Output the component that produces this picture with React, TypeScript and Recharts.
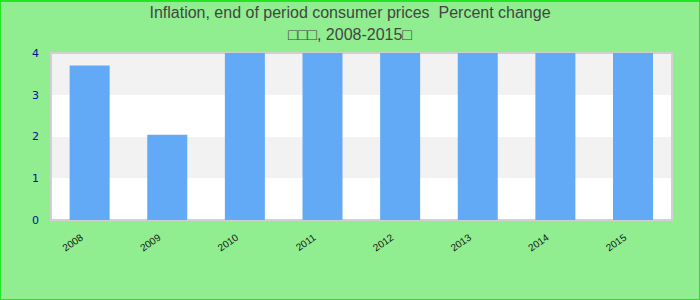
import React from "react";
import { BarChart, Bar, XAxis, YAxis, CartesianGrid, ReferenceArea } from "recharts";

const categories = ["2008", "2009", "2010", "2011", "2012", "2013", "2014", "2015"];
const inflation = [3.7, 2.04, 4, 4, 4, 4, 4, 4];
const yTicks = [0, 1, 2, 3, 4];
const titleLine1 = "Inflation, end of period consumer prices  Percent change";
const titleLine2 = "\u25A1\u25A1\u25A1, 2008-2015\u25A1";

const data = categories.map((c, i) => ({ year: c, value: inflation[i] }));

const XTick = (props: any) => {
  const { x, y, payload } = props;
  return (
    <g transform={`translate(${x - 6},${y + 11})`}>
      <text
        x={0}
        y={0}
        transform="rotate(-35)"
        textAnchor="end"
        fontSize={10}
        fontFamily="Liberation Sans"
        fill="#111"
      >
        {payload.value}
      </text>
    </g>
  );
};

export default function App() {
  return (
    <div
      style={{
        position: "fixed",
        left: 0,
        top: 0,
        width: 700,
        height: 300,
        boxSizing: "border-box",
        background: "#90ee90",
        border: "1px solid #22e622",
        borderTopWidth: 2,
        overflow: "hidden",
      }}
    >
      <div
        style={{
          position: "absolute",
          left: 0,
          top: 0,
          width: 698,
          textAlign: "center",
          fontFamily: "Liberation Sans",
          fontSize: 16,
          color: "#444",
          lineHeight: "22px",
          whiteSpace: "pre",
        }}
      >
        <div>{titleLine1}</div>
        <div>{titleLine2}</div>
      </div>
      <div style={{ position: "absolute", left: -1, top: -2 }}>
        <BarChart
          width={700}
          height={300}
          data={data}
          margin={{ top: 53, right: 28, bottom: 50, left: 1 }}
          barCategoryGap="24%"
        >
          <CartesianGrid
            vertical={false}
            stroke="none"
            horizontalFill={["#f2f2f2", "#ffffff"]}
          />
          <XAxis
            dataKey="year"
            height={30}
            axisLine={false}
            tickLine={false}
            tick={<XTick />}
            interval={0}
          />
          <YAxis
            width={50}
            domain={[0, 4]}
            ticks={yTicks}
            allowDataOverflow
            axisLine={false}
            tickLine={false}
            tick={{ fill: "#0a0a99", fontSize: 11, fontFamily: "DejaVu Sans" }}
            tickMargin={6}
          />
          <Bar dataKey="value" fill="#62aaf5" isAnimationActive={false} />
          <ReferenceArea y1={0} y2={4} fill="none" stroke="#d0d0d0" strokeWidth={2} />
        </BarChart>
      </div>
    </div>
  );
}
